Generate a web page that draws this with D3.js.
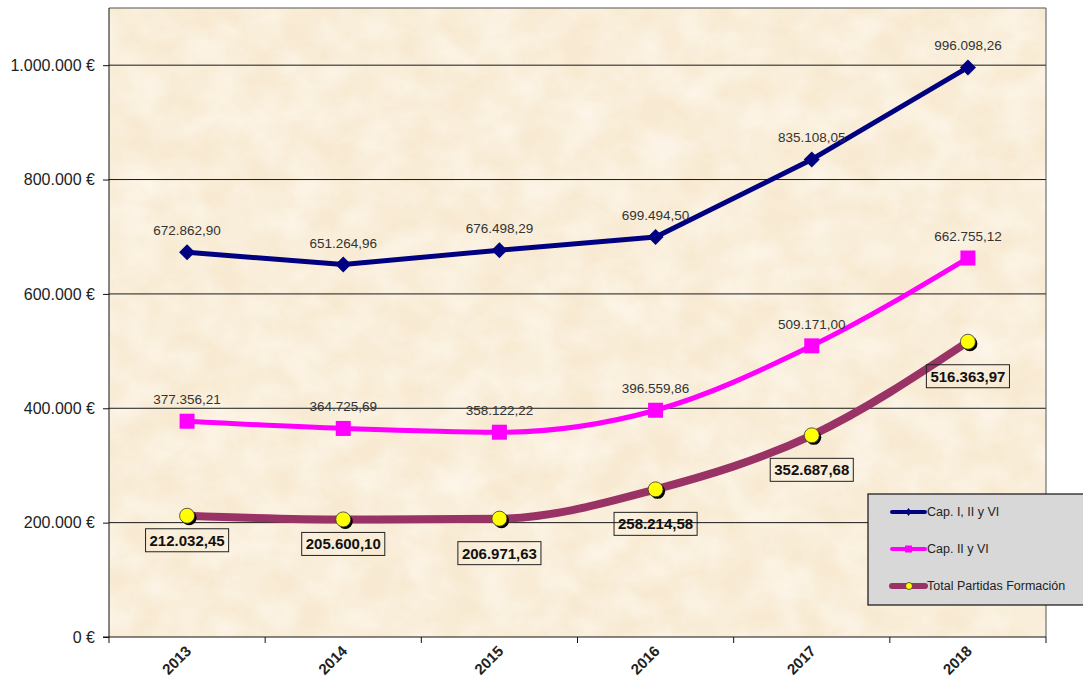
<!DOCTYPE html>
<html>
<head>
<meta charset="utf-8">
<script src="https://cdn.jsdelivr.net/npm/d3@7"></script>
<style>
  body { margin: 0; background: #fff; }
  svg { display: block; font-family: "Liberation Sans", Arial, sans-serif; }
</style>
</head>
<body>
<svg id="chart" width="1083" height="683"></svg>
<script>
// data
var years = ["2013", "2014", "2015", "2016", "2017", "2018"];
var capIIIyVI = [672862.90, 651264.96, 676498.29, 699494.50, 835108.05, 996098.26];
var capIIyVI = [377356.21, 364725.69, 358122.22, 396559.86, 509171.00, 662755.12];
var totalFormacion = [212032.45, 205600.10, 206971.63, 258214.58, 352687.68, 516363.97];
var seriesNames = ["Cap. I, II y VI", "Cap. II y VI", "Total Partidas Formación"];
var yTicks = [0, 200000, 400000, 600000, 800000, 1000000];

var es = d3.formatLocale({ decimal: ",", thousands: ".", grouping: [3], currency: ["", " €"] });
var fmtVal = es.format(",.2f");
var fmtTick = function (d) { return es.format(",.0f")(d) + " €"; };

var svg = d3.select("#chart");
var m = { left: 109, right: 1046, top: 8, bottom: 637 };

var x = d3.scaleBand().domain(years).range([m.left, m.right]);
var y = d3.scaleLinear().domain([0, 1100000]).range([m.bottom, m.top]);
var cx = function (i) { return x(years[i]) + x.bandwidth() / 2; };

// parchment background
var defs = svg.append("defs");
var f = defs.append("filter").attr("id", "paper").attr("x", 0).attr("y", 0).attr("width", 1).attr("height", 1);
f.append("feTurbulence").attr("type", "fractalNoise").attr("baseFrequency", "0.025 0.03").attr("numOctaves", 4).attr("seed", 3);
f.append("feColorMatrix").attr("type", "matrix")
  .attr("values", "0 0 0 0 1  0 0 0 0 0.98  0 0 0 0 0.94  0 0 0 -1.6 1.15");
f.append("feComposite").attr("in2", "SourceGraphic").attr("operator", "in");

svg.append("rect").attr("x", m.left).attr("y", m.top)
  .attr("width", m.right - m.left).attr("height", m.bottom - m.top)
  .attr("fill", "#F8EAD2");
svg.append("rect").attr("x", m.left).attr("y", m.top)
  .attr("width", m.right - m.left).attr("height", m.bottom - m.top)
  .attr("fill", "#fff").attr("filter", "url(#paper)").attr("opacity", 0.6);

// grid
svg.append("g").selectAll("line").data(yTicks.filter(function (d) { return d > 0; }))
  .join("line")
  .attr("x1", m.left).attr("x2", m.right)
  .attr("y1", function (d) { return y(d); }).attr("y2", function (d) { return y(d); })
  .attr("stroke", "#1a1a1a").attr("stroke-width", 1);

// frame
svg.append("path")
  .attr("d", "M" + m.left + "," + m.top + "H" + m.right + "V" + m.bottom)
  .attr("fill", "none").attr("stroke", "#555").attr("stroke-width", 1);

// y axis
var yAxis = svg.append("g").attr("transform", "translate(" + m.left + ",0)")
  .call(d3.axisLeft(y).tickValues(yTicks).tickFormat(fmtTick).tickSize(6).tickSizeOuter(0));
yAxis.select(".domain").attr("stroke", "#111").attr("d", "M0," + m.top + "V" + m.bottom);
yAxis.selectAll(".tick line").attr("stroke", "#111");
yAxis.selectAll("text").attr("font-size", 16).attr("fill", "#222").attr("x", -14)
  .attr("font-family", "Liberation Sans, Arial, sans-serif");

// x axis
var xAxis = svg.append("g").attr("transform", "translate(0," + m.bottom + ")");
xAxis.append("line").attr("x1", m.left - 6).attr("x2", m.right).attr("stroke", "#111");
xAxis.selectAll("line.tk").data(d3.range(years.length + 1)).join("line").attr("class", "tk")
  .attr("x1", function (i) { return m.left + i * x.bandwidth(); })
  .attr("x2", function (i) { return m.left + i * x.bandwidth(); })
  .attr("y1", 0).attr("y2", 6).attr("stroke", "#111");
xAxis.selectAll("text").data(years).join("text")
  .attr("transform", function (d, i) { return "translate(" + (cx(i) + 5) + ",15) rotate(-45)"; })
  .attr("text-anchor", "end").attr("font-size", 15).attr("font-weight", "bold").attr("fill", "#222")
  .text(function (d) { return d; });

// lines
var lineLin = d3.line().x(function (d, i) { return cx(i); }).y(function (d) { return y(d); });
var lineSmooth = d3.line().x(function (d, i) { return cx(i); }).y(function (d) { return y(d); })
  .curve(d3.curveMonotoneX);

svg.append("path").datum(capIIIyVI).attr("d", lineLin)
  .attr("fill", "none").attr("stroke", "#000080").attr("stroke-width", 5).attr("stroke-linejoin", "round");
svg.append("path").datum(capIIyVI).attr("d", lineSmooth)
  .attr("fill", "none").attr("stroke", "#FF00FF").attr("stroke-width", 5);
svg.append("path").datum(totalFormacion).attr("d", lineSmooth)
  .attr("fill", "none").attr("stroke", "#993366").attr("stroke-width", 8);

// markers
svg.append("g").selectAll("path").data(capIIIyVI).join("path")
  .attr("transform", function (d, i) { return "translate(" + cx(i) + "," + y(d) + ")"; })
  .attr("d", "M0,-8L8,0L0,8L-8,0Z").attr("fill", "#000080");
svg.append("g").selectAll("rect").data(capIIyVI).join("rect")
  .attr("x", function (d, i) { return cx(i) - 7.5; }).attr("y", function (d) { return y(d) - 7.5; })
  .attr("width", 15).attr("height", 15).attr("fill", "#FF00FF");
var dots = svg.append("g");
dots.selectAll("circle.sh").data(totalFormacion).join("circle").attr("class", "sh")
  .attr("cx", function (d, i) { return cx(i) + 2; }).attr("cy", function (d) { return y(d) + 2; })
  .attr("r", 7.5).attr("fill", "#000");
dots.selectAll("circle.pt").data(totalFormacion).join("circle").attr("class", "pt")
  .attr("cx", function (d, i) { return cx(i); }).attr("cy", function (d) { return y(d); })
  .attr("r", 7.5).attr("fill", "#FFFF00").attr("stroke", "#333").attr("stroke-width", 0.8);

// value labels
[capIIIyVI, capIIyVI].forEach(function (s) {
  svg.append("g").selectAll("text").data(s).join("text")
    .attr("x", function (d, i) { return cx(i); }).attr("y", function (d) { return y(d) - 17; })
    .attr("text-anchor", "middle").attr("font-size", 13.5).attr("fill", "#333")
    .text(function (d) { return fmtVal(d); });
});

var tl = svg.append("g").selectAll("g").data(totalFormacion).join("g");
tl.each(function (d, i) {
  var g = d3.select(this);
  var t = g.append("text").attr("font-size", 15).attr("font-weight", "bold").attr("fill", "#111")
    .attr("text-anchor", "middle").text(fmtVal(d));
  var w = t.node().getComputedTextLength() + 8;
  var px = Math.min(cx(i), m.right - 2 - w / 2);
  var top = y(d) + 13 + (i >= 2 ? 10 : 0);
  g.insert("rect", "text").attr("x", px - w / 2).attr("y", top).attr("width", w).attr("height", 23)
    .attr("fill", "none").attr("stroke", "#222").attr("stroke-width", 1);
  t.attr("x", px).attr("y", top + 17);
});

// legend
var lg = svg.append("g").attr("transform", "translate(868,494)");
lg.append("rect").attr("width", 230).attr("height", 111).attr("fill", "#D8D8D8")
  .attr("stroke", "#111").attr("stroke-width", 1.2);
var legColors = ["#000080", "#FF00FF", "#993366"];
var legW = [4, 4, 6];
seriesNames.forEach(function (n, i) {
  var ly = 18 + i * 37;
  lg.append("line").attr("x1", 24).attr("x2", 57).attr("y1", ly).attr("y2", ly)
    .attr("stroke", legColors[i]).attr("stroke-width", legW[i]).attr("stroke-linecap", "round");
  if (i === 0) lg.append("path").attr("d", "M40.5," + (ly - 4) + "l3,4l-3,4l-3,-4z").attr("fill", legColors[0]);
  if (i === 1) lg.append("rect").attr("x", 37).attr("y", ly - 3.5).attr("width", 7).attr("height", 7).attr("fill", legColors[1]);
  if (i === 2) lg.append("circle").attr("cx", 41).attr("cy", ly).attr("r", 3.5).attr("fill", "#FFFF00").attr("stroke", "#333").attr("stroke-width", 0.8);
  lg.append("text").attr("x", 59).attr("y", ly + 4).attr("font-size", 12.5).attr("fill", "#222").text(n);
});
</script>
</body>
</html>
